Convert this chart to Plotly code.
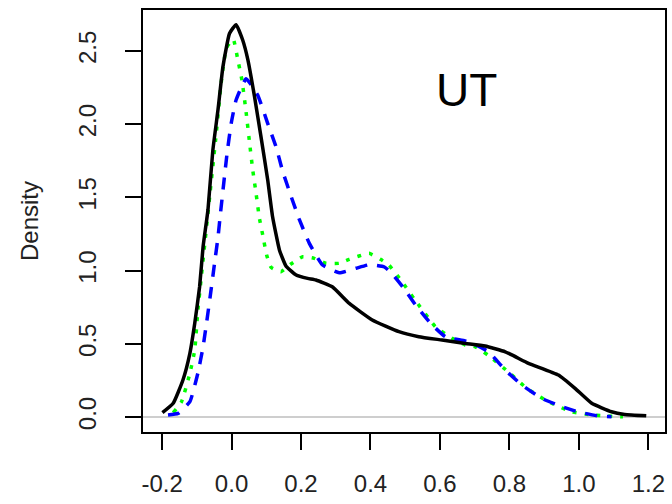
import plotly.graph_objects as go

# ---- data ----
black_x = [-0.199, -0.168, -0.14, -0.12, -0.106, -0.092, -0.082, -0.068, -0.054, -0.039,
           -0.025, -0.006, 0.013, 0.032, 0.047, 0.066, 0.085, 0.104, 0.118, 0.138,
           0.157, 0.186, 0.219, 0.243, 0.29, 0.339, 0.405, 0.482, 0.539, 0.606,
           0.673, 0.73, 0.788, 0.855, 0.941, 0.989, 1.037, 1.094, 1.132, 1.194]
black_y = [0.03, 0.094, 0.253, 0.435, 0.64, 0.89, 1.163, 1.414, 1.82, 2.10,
           2.39, 2.62, 2.68, 2.575, 2.44, 2.19, 1.91, 1.62, 1.37, 1.14,
           1.03, 0.97, 0.947, 0.936, 0.89, 0.776, 0.663, 0.583, 0.549, 0.526,
           0.503, 0.485, 0.446, 0.367, 0.287, 0.196, 0.094, 0.036, 0.018, 0.009]

blue_x = [-0.183, -0.154, -0.12, -0.097, -0.082, -0.071, -0.061, -0.049, -0.039, -0.032,
          -0.013, -0.001, 0.013, 0.042, 0.075, 0.104, 0.128, 0.147, 0.171, 0.195,
          0.224, 0.262, 0.31, 0.358, 0.396, 0.44, 0.46, 0.496, 0.53, 0.573,
          0.616, 0.683, 0.74, 0.788, 0.836, 0.893, 0.946, 0.998, 1.056, 1.094]
blue_y = [0.014, 0.025, 0.105, 0.30, 0.48, 0.66, 0.833, 1.05, 1.23, 1.39,
          1.80, 2.006, 2.165, 2.31, 2.20, 2.006, 1.846, 1.68, 1.51, 1.35,
          1.186, 1.038, 0.985, 1.016, 1.04, 1.025, 0.985, 0.88, 0.765, 0.64,
          0.548, 0.514, 0.446, 0.321, 0.219, 0.128, 0.075, 0.036, 0.007, 0.002]

green_x = [-0.168, -0.144, -0.12, -0.106, -0.097, -0.087, -0.077, -0.068, -0.063, -0.044,
           -0.03, -0.015, 0.005, 0.018, 0.03, 0.042, 0.052, 0.061, 0.071, 0.08,
           0.09, 0.101, 0.114, 0.142, 0.171, 0.205, 0.238, 0.272, 0.31, 0.339,
           0.367, 0.396, 0.429, 0.453, 0.491, 0.525, 0.587, 0.635, 0.673, 0.702,
           0.74, 0.802, 0.85, 0.912, 0.979, 1.037, 1.127]
green_y = [0.03, 0.105, 0.30, 0.458, 0.73, 0.958, 1.186, 1.39, 1.505, 1.938,
           2.28, 2.52, 2.58, 2.44, 2.30, 2.08, 1.87, 1.687, 1.52, 1.36,
           1.24, 1.107, 1.022, 0.993, 1.045, 1.095, 1.084, 1.05, 1.05, 1.077,
           1.10, 1.118, 1.077, 1.038, 0.924, 0.81, 0.617, 0.538, 0.492, 0.48,
           0.42, 0.298, 0.196, 0.105, 0.036, 0.014, 0.002]

x_tickvals = [-0.2, 0.0, 0.2, 0.4, 0.6, 0.8, 1.0, 1.2]
x_ticktext = ["-0.2", "0.0", "0.2", "0.4", "0.6", "0.8", "1.0", "1.2"]
y_tickvals = [0.0, 0.5, 1.0, 1.5, 2.0, 2.5]
y_ticktext = ["0.0", "0.5", "1.0", "1.5", "2.0", "2.5"]

panel_label = "UT"
y_title = "Density"

FONT = "Liberation Sans, Arial, sans-serif"
TXT = "#222222"

fig = go.Figure()
fig.add_trace(go.Scatter(x=green_x, y=green_y, mode="lines",
                         line=dict(color="#00ff00", width=3.5, dash="4px,8px", shape="spline", smoothing=0.4),
                         showlegend=False))
fig.add_trace(go.Scatter(x=blue_x, y=blue_y, mode="lines",
                         line=dict(color="#0000ff", width=3.5, dash="12px,10px", shape="spline", smoothing=0.4),
                         showlegend=False))
fig.add_trace(go.Scatter(x=black_x, y=black_y, mode="lines",
                         line=dict(color="#000000", width=3.5, shape="spline", smoothing=0.4),
                         showlegend=False))

fig.add_hline(y=0, line=dict(color="#bebebe", width=1.5), layer="below")

fig.add_annotation(x=0.677, y=2.234, text=panel_label, showarrow=False,
                   font=dict(family=FONT, size=46, color="black"),
                   xanchor="center", yanchor="middle")

fig.update_layout(
    width=672, height=504,
    margin=dict(l=143, r=5, t=10, b=72),
    paper_bgcolor="white", plot_bgcolor="white",
    font=dict(family=FONT, color=TXT),
    xaxis=dict(range=[-0.255, 1.248], tickvals=x_tickvals, ticktext=x_ticktext,
               ticks="outside", ticklen=16, tickwidth=1.5, tickcolor="black",
               showline=True, mirror=True, linewidth=1.5, linecolor="black",
               showgrid=False, zeroline=False,
               tickfont=dict(family=FONT, size=24, color=TXT),
               ticklabelstandoff=13),
    yaxis=dict(range=[-0.102, 2.78], tickvals=y_tickvals, ticktext=y_ticktext,
               ticks="outside", ticklen=16, tickwidth=1.5, tickcolor="black",
               showline=True, mirror=True, linewidth=1.5, linecolor="black",
               showgrid=False, zeroline=False, tickangle=-90,
               tickfont=dict(family=FONT, size=24, color=TXT),
               ticklabelstandoff=20,
               title=dict(text=y_title, font=dict(family=FONT, size=24, color=TXT),
                          standoff=28)),
)

fig.write_html("out.html")
